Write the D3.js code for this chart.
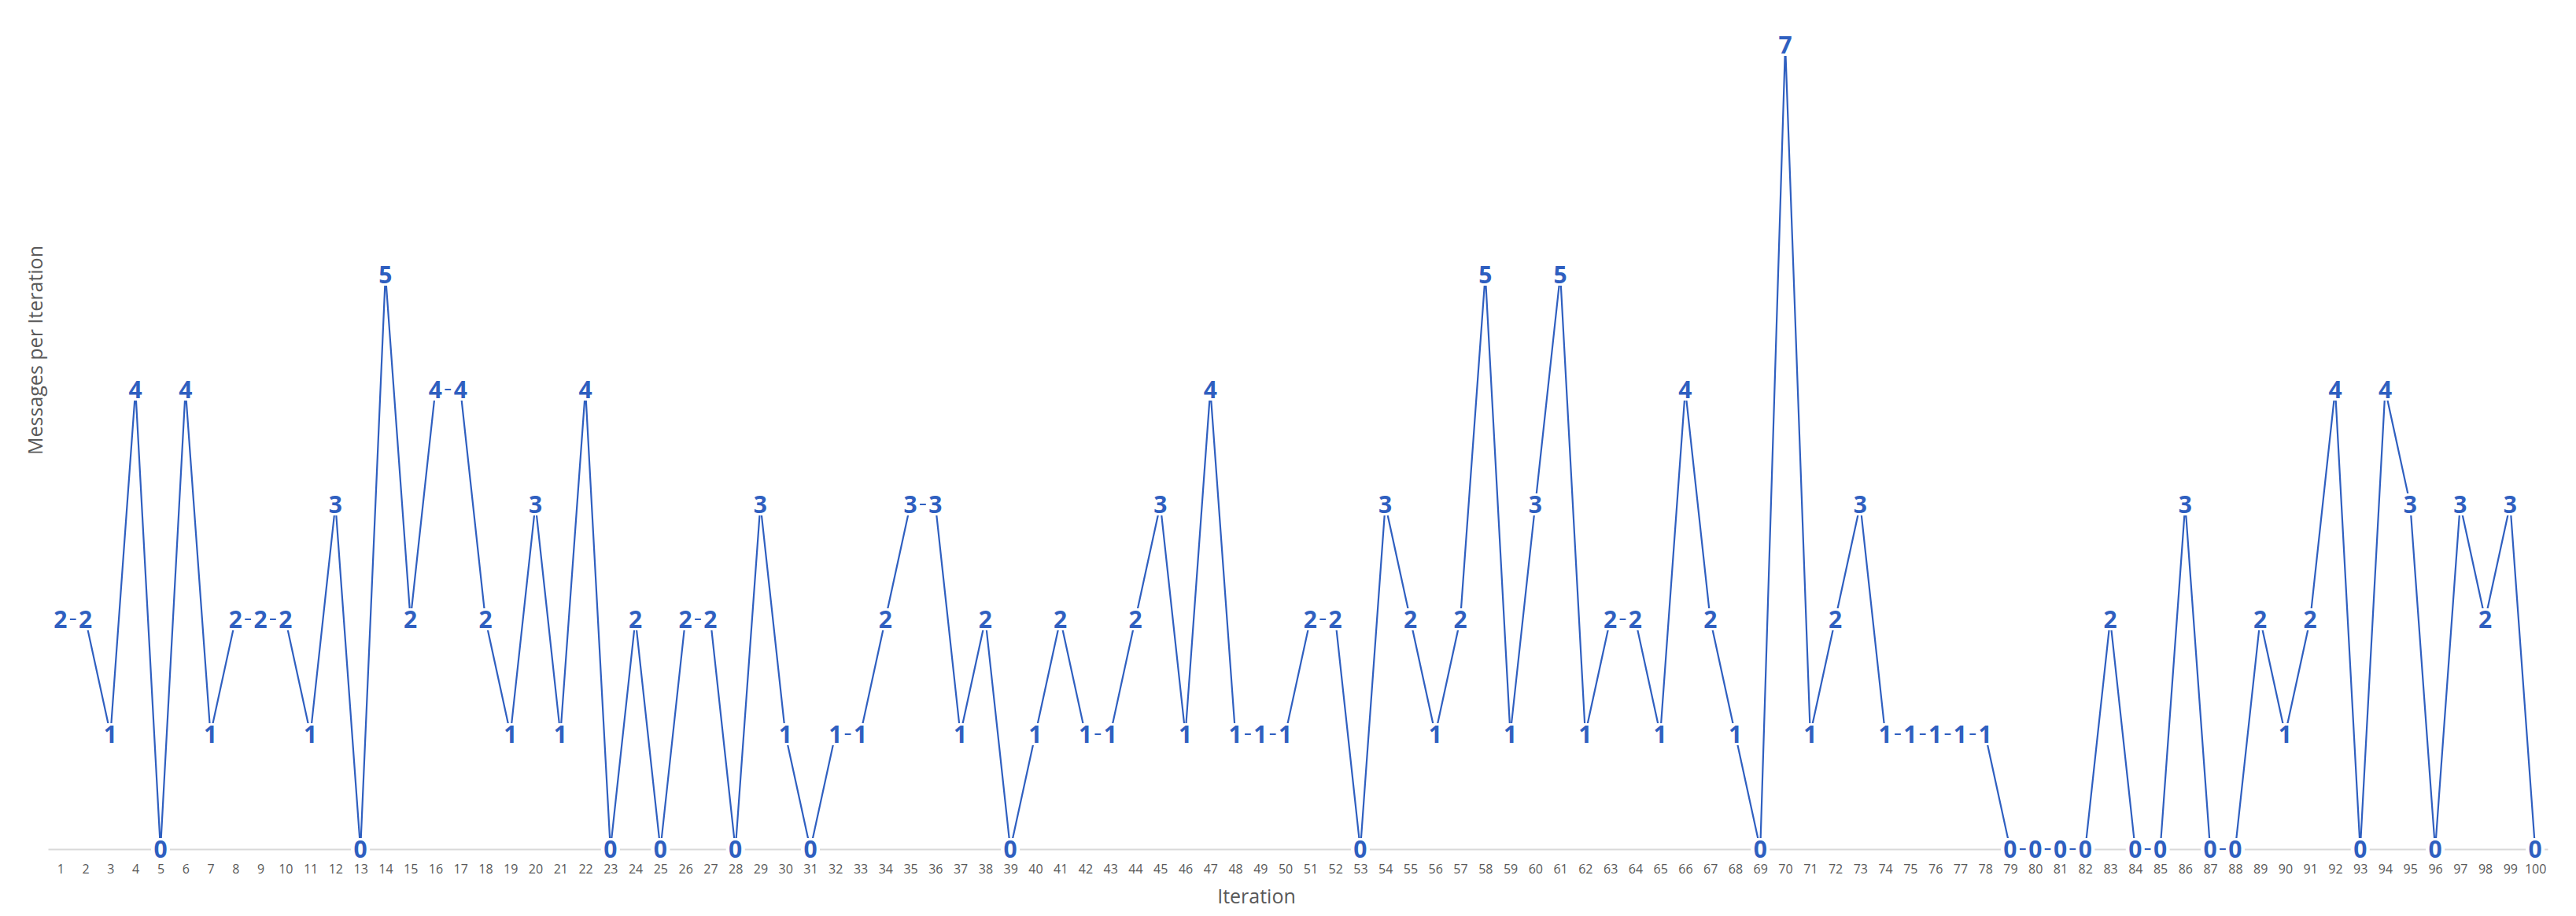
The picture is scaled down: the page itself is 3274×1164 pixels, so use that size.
<!DOCTYPE html>
<html>
<head>
<meta charset="utf-8">
<script src="https://cdn.jsdelivr.net/npm/d3@7"></script>
<style>
  body { margin: 0; background: #fff; }
  text { font-family: "Open Sans", "Liberation Sans", sans-serif; }
</style>
</head>
<body>
<div id="chart"></div>
<script>
// messages per iteration
const iterations = d3.range(1, 101);
const messages = [
  2, 2, 1, 4, 0, 4, 1, 2, 2, 2,
  1, 3, 0, 5, 2, 4, 4, 2, 1, 3,
  1, 4, 0, 2, 0, 2, 2, 0, 3, 1,
  0, 1, 1, 2, 3, 3, 1, 2, 0, 1,
  2, 1, 1, 2, 3, 1, 4, 1, 1, 1,
  2, 2, 0, 3, 2, 1, 2, 5, 1, 3,
  5, 1, 2, 2, 1, 4, 2, 1, 0, 7,
  1, 2, 3, 1, 1, 1, 1, 1, 0, 0,
  0, 0, 2, 0, 0, 3, 0, 0, 2, 1,
  2, 4, 0, 4, 3, 0, 3, 2, 3, 0
];
const xTitle = "Iteration";
const yTitle = "Messages per Iteration";

const data = iterations.map((it, i) => ({ it: it, v: messages[i] }));

const width = 3274, height = 1164;
const blue = "#2f5fc0";

let svg = d3.select("#chart")
      .append("svg")
      .attr("width", width)
      .attr("height", height);

let x = d3.scalePoint().domain(iterations).range([61, 3238]).padding(0.5),
    y = d3.scaleLinear().domain([0, 7]).range([1079, 57]);

// x axis: light baseline, no ticks
let xAxis = svg.append("g")
      .attr("transform", "translate(0," + y(0) + ")")
      .call(d3.axisBottom(x).tickSize(0).tickPadding(20));
xAxis.select(".domain").attr("stroke", "#d9d9d9").attr("stroke-width", 2);
xAxis.selectAll("text")
      .attr("fill", "#595959")
      .style("font-size", "16px");

let line = d3.line()
      .x(d => x(d.it))
      .y(d => y(d.v));

svg.append("path")
      .datum(data)
      .attr("fill", "none")
      .attr("stroke", blue)
      .attr("stroke-width", 2.2)
      .attr("stroke-linejoin", "miter")
      .attr("d", line);

// data labels with white boxes
let labels = svg.append("g").selectAll("g")
      .data(data)
      .join("g")
      .attr("transform", d => "translate(" + x(d.it) + "," + y(d.v) + ")");

labels.append("rect")
      .attr("x", -12)
      .attr("y", -14)
      .attr("width", 24)
      .attr("height", 28)
      .attr("fill", "#fff");

labels.append("text")
      .attr("text-anchor", "middle")
      .attr("dy", "0.36em")
      .attr("fill", blue)
      .style("font-size", "30px")
      .style("font-weight", "bold")
      .text(d => d.v);

svg.append("text")
      .attr("x", 1597)
      .attr("y", 1148)
      .attr("text-anchor", "middle")
      .attr("fill", "#595959")
      .style("font-size", "25px")
      .text(xTitle);

svg.append("text")
      .attr("transform", "translate(54,445) rotate(-90)")
      .attr("text-anchor", "middle")
      .attr("fill", "#595959")
      .style("font-size", "25px")
      .text(yTitle);
</script>
</body>
</html>
